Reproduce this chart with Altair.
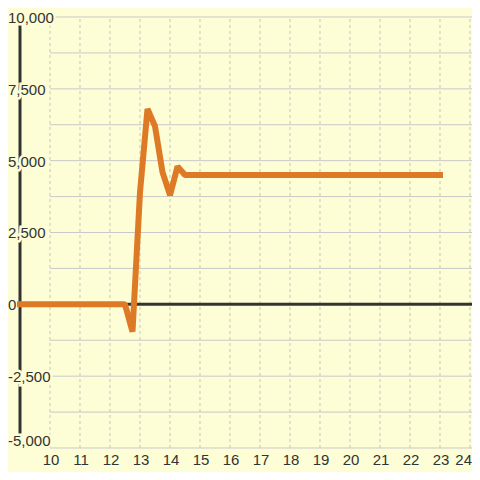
import altair as alt
import pandas as pd

# ---- data ----
x_pts = [9, 12.5, 12.75, 13.0, 13.25, 13.5, 13.75, 14.0, 14.25, 14.5, 23]
y_pts = [0, 0, -950, 3900, 6800, 6200, 4600, 3800, 4800, 4500, 4500]
y_ticks = [-5000, -2500, 0, 2500, 5000, 7500, 10000]
y_grid = [-5000, -3750, -2500, -1250, 0, 1250, 2500, 3750, 5000, 6250, 7500, 8750, 10000]
x_ticks = list(range(10, 25))

BG = "#FDFDD6"
TXT = "#333333"
ORANGE = "#DE7A26"
W, H = 464, 464
FONT = "Liberation Sans"

xs = alt.Scale(domain=[8.6, 24.0667], nice=False, zero=False)
ys = alt.Scale(domain=[-5835.3, 10313.2], nice=False, zero=False)

line_df = pd.DataFrame({"x": x_pts, "y": y_pts})
ygrid_df = pd.DataFrame({"y": y_grid})
xtick_df = pd.DataFrame({"x": x_ticks, "label": [str(v) for v in x_ticks]})
ylab_df = pd.DataFrame({"y": y_ticks, "label": [f"{v:,}" for v in y_ticks]})
one_df = pd.DataFrame({"k": [0]})

X = lambda f: alt.X(f, type="quantitative", scale=xs, axis=None)
Y = lambda f: alt.Y(f, type="quantitative", scale=ys, axis=None)

hgrid = alt.Chart(ygrid_df).transform_calculate(x0="10").mark_rule(
    color="#C9C9C9", strokeWidth=1
).encode(x=X("x0"), x2=alt.value(W), y=Y("y"))

vgrid = alt.Chart(xtick_df).transform_calculate(y0="-5000", y1="10000").mark_rule(
    color="#C4C4C4", strokeWidth=1, strokeDash=[3, 3]
).encode(x=X("x"), y=Y("y0"), y2="y1:Q")

zero = alt.Chart(one_df).transform_calculate(x0="9", y0="0").mark_rule(
    color=TXT, strokeWidth=3
).encode(x=X("x0"), x2=alt.value(W), y=Y("y0"))

yaxis = alt.Chart(one_df).transform_calculate(x0="9", y0="-5000", y1="10000").mark_rule(
    color=TXT, strokeWidth=3
).encode(x=X("x0"), y=Y("y0"), y2="y1:Q")


def ylabels(halo):
    layers = []
    for cond, dy in [("datum.y > -5000", 1), ("datum.y == -5000", -7)]:
        kw = dict(align="left", baseline="middle", font=FONT, fontSize=15, dy=dy)
        if halo:
            kw.update(fill=BG, stroke=BG, strokeWidth=5)
        else:
            kw.update(color=TXT)
        layers.append(
            alt.Chart(ylab_df).transform_filter(cond).mark_text(**kw).encode(
                x=alt.value(0), y=Y("y"), text="label:N"
            )
        )
    return layers


def xlabels():
    layers = []
    for cond, align, dx in [("datum.x < 24", "center", 1), ("datum.x == 24", "right", 2)]:
        layers.append(
            alt.Chart(xtick_df).transform_filter(cond).transform_calculate(y0="-5000").mark_text(
                align=align, baseline="middle", font=FONT, fontSize=15, color=TXT, dx=dx, dy=12.5
            ).encode(x=X("x"), y=Y("y0"), text="label:N")
        )
    return layers


line = alt.Chart(line_df).mark_line(
    color=ORANGE, strokeWidth=6, strokeCap="square", strokeJoin="bevel"
).encode(x=X("x"), y=Y("y"))

chart = alt.layer(
    hgrid, vgrid, yaxis, *ylabels(True), *ylabels(False), zero, *xlabels(), line
).properties(
    width=W, height=H, background=BG, padding=0,
    autosize=alt.AutoSizeParams(type="none"),
).configure_view(stroke=None)

chart.save("out.html", embed_options={"renderer": "svg", "actions": False})
